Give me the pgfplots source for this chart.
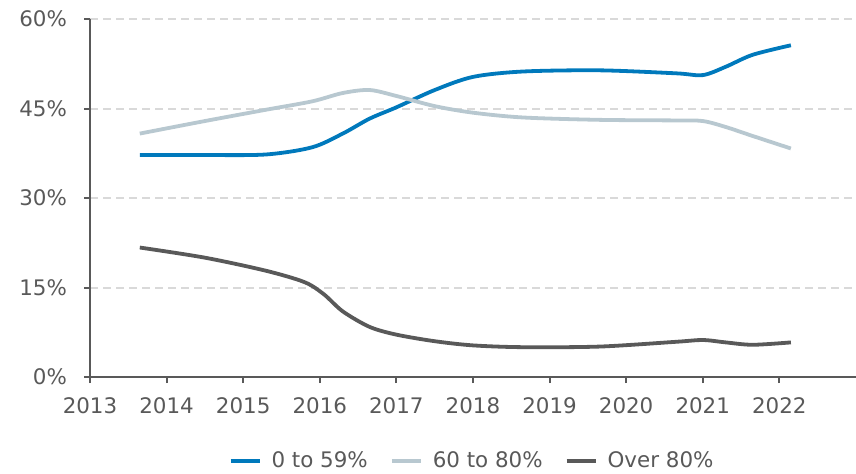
\documentclass[border=0pt]{standalone}
\usepackage{fontspec}
\setmainfont{DejaVu Sans}
\usepackage{pgfplots}
\pgfplotsset{compat=1.18}
\definecolor{cblue}{HTML}{0079BC}
\definecolor{cgrey}{HTML}{B8C8D0}
\definecolor{cdark}{HTML}{595959}
\definecolor{ctext}{HTML}{595959}
\definecolor{cgrid}{HTML}{D9D9D9}

\begin{document}
\begin{tikzpicture}
  \begin{axis}[
    name=ax, at={(0,0)}, anchor=south west,
    scale only axis, width=383pt, height=179pt,
    xmin=2013, xmax=2023, ymin=0, ymax=60,
    xtick={2013,...,2022}, ytick={0,15,30,45,60},
    axis x line*=bottom, axis y line*=left,
    axis line style={ctext, line width=1pt, -},
    tick align=outside, major tick length=3pt,
    tick style={ctext, line width=1pt},
    ymajorgrids,
    major grid style={cgrid, line width=1pt, dash pattern=on 4pt off 2.5pt},
    /pgf/number format/assume math mode=true,
    /pgf/number format/1000 sep={},
    ticklabel style={font=\fontsize{10.7}{13}\selectfont, text=ctext},
    yticklabel={\pgfmathprintnumber{\tick}\%},
    yticklabel style={xshift=-5pt},
    xticklabel style={yshift=-4pt},
    legend style={at={(0.5,0)}, anchor=center, yshift=-42pt, draw=none,
      font=\fontsize{10.7}{13}\selectfont, text=ctext,
      legend columns=-1,
      /tikz/every odd column/.append style={column sep=3pt},
      /tikz/every even column/.append style={column sep=9pt}},
    legend image code/.code={\draw[#1, line width=2pt] (0pt,0pt) -- (14.5pt,0pt);},
    every axis plot/.append style={line width=1.9pt, smooth, tension=0.5, no marks},
  ]
    % 0 to 59%
    \addplot[cblue] coordinates {
      (2013.65,37.2) (2014.5,37.2) (2015.3,37.3) (2015.9,38.5) (2016.3,40.8)
      (2016.65,43.3) (2017.0,45.2) (2017.5,48.1) (2018.0,50.3) (2018.65,51.2)
      (2019.65,51.4) (2020.65,50.9) (2021.0,50.6) (2021.3,52.0) (2021.65,54.0)
      (2022.15,55.6)
    };
    \addlegendentry{0 to 59\%}
    % 60 to 80%
    \addplot[cgrey] coordinates {
      (2013.65,40.8) (2014.5,42.9) (2015.3,44.8) (2015.9,46.2) (2016.3,47.6)
      (2016.65,48.1) (2017.0,47.1) (2017.5,45.4) (2018.0,44.3) (2018.65,43.5)
      (2019.65,43.1) (2020.65,43.0) (2021.0,42.9) (2021.3,41.9) (2021.65,40.4)
      (2022.15,38.3)
    };
    \addlegendentry{60 to 80\%}
    % Over 80%
    \addplot[cdark] coordinates {
      (2013.65,21.7) (2014.5,20.0) (2015.3,17.8) (2015.8,15.9) (2016.05,13.9)
      (2016.3,11.0) (2016.65,8.4) (2017.0,7.1) (2017.5,6.0) (2018.0,5.3)
      (2018.65,5.0) (2019.65,5.1) (2020.65,5.9) (2021.0,6.2) (2021.3,5.8)
      (2021.65,5.4) (2022.15,5.8)
    };
    \addlegendentry{Over 80\%}
  \end{axis}
  \pgfresetboundingbox
  \path[use as bounding box] (-45pt,-48pt) rectangle (383pt,188.5pt);
\end{tikzpicture}
\end{document}
